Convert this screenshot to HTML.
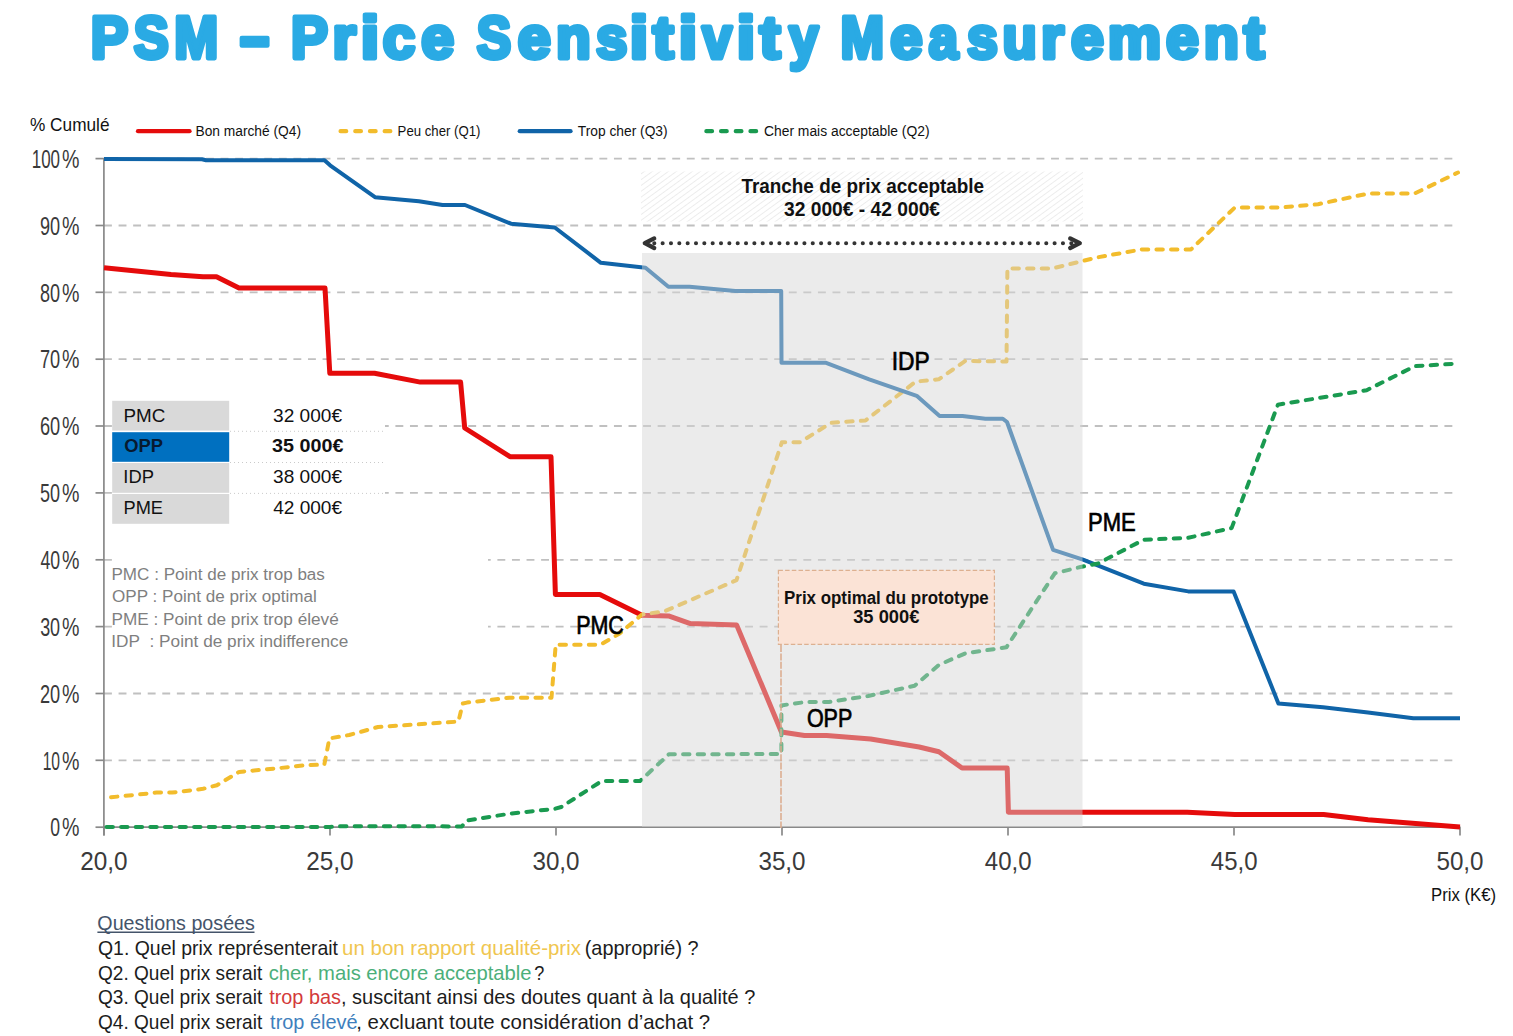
<!DOCTYPE html>
<html><head><meta charset="utf-8"><title>PSM - Price Sensitivity Measurement</title>
<style>
html,body{margin:0;padding:0;background:#fff;}
body{width:1513px;height:1036px;overflow:hidden;}
svg{display:block;font-family:"Liberation Sans",sans-serif;}
</style></head><body>
<svg width="1513" height="1036" viewBox="0 0 1513 1036">
<defs>
<pattern id="hatch" patternUnits="userSpaceOnUse" width="4.7" height="4.7" patternTransform="rotate(54)">
<line x1="0" y1="0" x2="0" y2="4.7" stroke="#d6d6d6" stroke-width="0.9"/>
</pattern>
</defs>
<rect x="0" y="0" width="1513" height="1036" fill="#fff"/>

<g fill="#2aaae4" stroke="#2aaae4">
<text x="90.81" y="58.30" font-size="59.8" font-weight="bold" fill="#2aaae4" stroke="#2aaae4" stroke-width="4.8" stroke-linejoin="round" textLength="37.42" lengthAdjust="spacingAndGlyphs">P</text>
<text x="133.73" y="58.30" font-size="59.8" font-weight="bold" fill="#2aaae4" stroke="#2aaae4" stroke-width="4.8" stroke-linejoin="round" textLength="34.94" lengthAdjust="spacingAndGlyphs">S</text>
<text x="174.24" y="58.30" font-size="59.8" font-weight="bold" fill="#2aaae4" stroke="#2aaae4" stroke-width="4.8" stroke-linejoin="round" textLength="43.91" lengthAdjust="spacingAndGlyphs">M</text>
<text x="290.96" y="58.30" font-size="59.8" font-weight="bold" fill="#2aaae4" stroke="#2aaae4" stroke-width="4.8" stroke-linejoin="round" textLength="36.95" lengthAdjust="spacingAndGlyphs">P</text>
<text x="332.48" y="58.30" font-size="59.8" font-weight="bold" fill="#2aaae4" stroke="#2aaae4" stroke-width="4.8" stroke-linejoin="round" textLength="23.48" lengthAdjust="spacingAndGlyphs">r</text>
<text x="360.87" y="58.30" font-size="59.8" font-weight="bold" fill="#2aaae4" stroke="#2aaae4" stroke-width="4.8" stroke-linejoin="round" textLength="18.39" lengthAdjust="spacingAndGlyphs">i</text>
<text x="382.86" y="58.30" font-size="59.8" font-weight="bold" fill="#2aaae4" stroke="#2aaae4" stroke-width="4.8" stroke-linejoin="round" textLength="32.51" lengthAdjust="spacingAndGlyphs">c</text>
<text x="421.24" y="58.30" font-size="59.8" font-weight="bold" fill="#2aaae4" stroke="#2aaae4" stroke-width="4.8" stroke-linejoin="round" textLength="32.85" lengthAdjust="spacingAndGlyphs">e</text>
<text x="476.85" y="58.30" font-size="59.8" font-weight="bold" fill="#2aaae4" stroke="#2aaae4" stroke-width="4.8" stroke-linejoin="round" textLength="34.38" lengthAdjust="spacingAndGlyphs">S</text>
<text x="517.72" y="58.30" font-size="59.8" font-weight="bold" fill="#2aaae4" stroke="#2aaae4" stroke-width="4.8" stroke-linejoin="round" textLength="33.08" lengthAdjust="spacingAndGlyphs">e</text>
<text x="556.10" y="58.30" font-size="59.8" font-weight="bold" fill="#2aaae4" stroke="#2aaae4" stroke-width="4.8" stroke-linejoin="round" textLength="34.76" lengthAdjust="spacingAndGlyphs">n</text>
<text x="596.02" y="58.30" font-size="59.8" font-weight="bold" fill="#2aaae4" stroke="#2aaae4" stroke-width="4.8" stroke-linejoin="round" textLength="31.40" lengthAdjust="spacingAndGlyphs">s</text>
<text x="629.87" y="58.30" font-size="59.8" font-weight="bold" fill="#2aaae4" stroke="#2aaae4" stroke-width="4.8" stroke-linejoin="round" textLength="18.39" lengthAdjust="spacingAndGlyphs">i</text>
<text x="652.72" y="58.30" font-size="59.8" font-weight="bold" fill="#2aaae4" stroke="#2aaae4" stroke-width="4.8" stroke-linejoin="round" textLength="20.79" lengthAdjust="spacingAndGlyphs">t</text>
<text x="678.87" y="58.30" font-size="59.8" font-weight="bold" fill="#2aaae4" stroke="#2aaae4" stroke-width="4.8" stroke-linejoin="round" textLength="18.39" lengthAdjust="spacingAndGlyphs">i</text>
<text x="702.33" y="58.30" font-size="59.8" font-weight="bold" fill="#2aaae4" stroke="#2aaae4" stroke-width="4.8" stroke-linejoin="round" textLength="29.66" lengthAdjust="spacingAndGlyphs">v</text>
<text x="736.77" y="58.30" font-size="59.8" font-weight="bold" fill="#2aaae4" stroke="#2aaae4" stroke-width="4.8" stroke-linejoin="round" textLength="18.39" lengthAdjust="spacingAndGlyphs">i</text>
<text x="759.62" y="58.30" font-size="59.8" font-weight="bold" fill="#2aaae4" stroke="#2aaae4" stroke-width="4.8" stroke-linejoin="round" textLength="20.90" lengthAdjust="spacingAndGlyphs">t</text>
<text x="789.00" y="58.30" font-size="59.8" font-weight="bold" fill="#2aaae4" stroke="#2aaae4" stroke-width="4.8" stroke-linejoin="round" textLength="29.42" lengthAdjust="spacingAndGlyphs">y</text>
<text x="840.57" y="58.30" font-size="59.8" font-weight="bold" fill="#2aaae4" stroke="#2aaae4" stroke-width="4.8" stroke-linejoin="round" textLength="43.55" lengthAdjust="spacingAndGlyphs">M</text>
<text x="890.18" y="58.30" font-size="59.8" font-weight="bold" fill="#2aaae4" stroke="#2aaae4" stroke-width="4.8" stroke-linejoin="round" textLength="32.28" lengthAdjust="spacingAndGlyphs">e</text>
<text x="928.82" y="58.30" font-size="59.8" font-weight="bold" fill="#2aaae4" stroke="#2aaae4" stroke-width="4.8" stroke-linejoin="round" textLength="29.24" lengthAdjust="spacingAndGlyphs">a</text>
<text x="966.96" y="58.30" font-size="59.8" font-weight="bold" fill="#2aaae4" stroke="#2aaae4" stroke-width="4.8" stroke-linejoin="round" textLength="30.82" lengthAdjust="spacingAndGlyphs">s</text>
<text x="1002.39" y="58.30" font-size="59.8" font-weight="bold" fill="#2aaae4" stroke="#2aaae4" stroke-width="4.8" stroke-linejoin="round" textLength="34.31" lengthAdjust="spacingAndGlyphs">u</text>
<text x="1040.96" y="58.30" font-size="59.8" font-weight="bold" fill="#2aaae4" stroke="#2aaae4" stroke-width="4.8" stroke-linejoin="round" textLength="22.97" lengthAdjust="spacingAndGlyphs">r</text>
<text x="1071.04" y="58.30" font-size="59.8" font-weight="bold" fill="#2aaae4" stroke="#2aaae4" stroke-width="4.8" stroke-linejoin="round" textLength="32.85" lengthAdjust="spacingAndGlyphs">e</text>
<text x="1107.70" y="58.30" font-size="59.8" font-weight="bold" fill="#2aaae4" stroke="#2aaae4" stroke-width="4.8" stroke-linejoin="round" textLength="53.41" lengthAdjust="spacingAndGlyphs">m</text>
<text x="1165.94" y="58.30" font-size="59.8" font-weight="bold" fill="#2aaae4" stroke="#2aaae4" stroke-width="4.8" stroke-linejoin="round" textLength="32.85" lengthAdjust="spacingAndGlyphs">e</text>
<text x="1203.76" y="58.30" font-size="59.8" font-weight="bold" fill="#2aaae4" stroke="#2aaae4" stroke-width="4.8" stroke-linejoin="round" textLength="35.14" lengthAdjust="spacingAndGlyphs">n</text>
<text x="1243.73" y="58.30" font-size="59.8" font-weight="bold" fill="#2aaae4" stroke="#2aaae4" stroke-width="4.8" stroke-linejoin="round" textLength="20.58" lengthAdjust="spacingAndGlyphs">t</text>
</g>
<rect x="239.6" y="35.8" width="30" height="12" rx="2.2" fill="#2aaae4"/>
<line x1="104" y1="760.3" x2="1456" y2="760.3" stroke="#c0c0c0" stroke-width="1.8" stroke-dasharray="7.9 6.67"/>
<line x1="104" y1="693.5" x2="1456" y2="693.5" stroke="#c0c0c0" stroke-width="1.8" stroke-dasharray="7.9 6.67"/>
<line x1="104" y1="626.6" x2="1456" y2="626.6" stroke="#c0c0c0" stroke-width="1.8" stroke-dasharray="7.9 6.67"/>
<line x1="104" y1="559.8" x2="1456" y2="559.8" stroke="#c0c0c0" stroke-width="1.8" stroke-dasharray="7.9 6.67"/>
<line x1="104" y1="492.9" x2="1456" y2="492.9" stroke="#c0c0c0" stroke-width="1.8" stroke-dasharray="7.9 6.67"/>
<line x1="104" y1="426.0" x2="1456" y2="426.0" stroke="#c0c0c0" stroke-width="1.8" stroke-dasharray="7.9 6.67"/>
<line x1="104" y1="359.2" x2="1456" y2="359.2" stroke="#c0c0c0" stroke-width="1.8" stroke-dasharray="7.9 6.67"/>
<line x1="104" y1="292.3" x2="1456" y2="292.3" stroke="#c0c0c0" stroke-width="1.8" stroke-dasharray="7.9 6.67"/>
<line x1="104" y1="225.5" x2="1456" y2="225.5" stroke="#c0c0c0" stroke-width="1.8" stroke-dasharray="7.9 6.67"/>
<line x1="104" y1="158.6" x2="1456" y2="158.6" stroke="#c0c0c0" stroke-width="1.8" stroke-dasharray="7.9 6.67"/>
<rect x="112" y="398" width="273" height="130" fill="#fff"/>
<rect x="112" y="540" width="376" height="112" fill="#fff"/>
<line x1="95.5" y1="827.2" x2="104" y2="827.2" stroke="#898989" stroke-width="1.7"/>
<line x1="95.5" y1="760.3" x2="104" y2="760.3" stroke="#898989" stroke-width="1.7"/>
<line x1="95.5" y1="693.5" x2="104" y2="693.5" stroke="#898989" stroke-width="1.7"/>
<line x1="95.5" y1="626.6" x2="104" y2="626.6" stroke="#898989" stroke-width="1.7"/>
<line x1="95.5" y1="559.8" x2="104" y2="559.8" stroke="#898989" stroke-width="1.7"/>
<line x1="95.5" y1="492.9" x2="104" y2="492.9" stroke="#898989" stroke-width="1.7"/>
<line x1="95.5" y1="426.0" x2="104" y2="426.0" stroke="#898989" stroke-width="1.7"/>
<line x1="95.5" y1="359.2" x2="104" y2="359.2" stroke="#898989" stroke-width="1.7"/>
<line x1="95.5" y1="292.3" x2="104" y2="292.3" stroke="#898989" stroke-width="1.7"/>
<line x1="95.5" y1="225.5" x2="104" y2="225.5" stroke="#898989" stroke-width="1.7"/>
<line x1="95.5" y1="158.6" x2="104" y2="158.6" stroke="#898989" stroke-width="1.7"/>
<line x1="103.9" y1="158.2" x2="103.9" y2="835.5" stroke="#898989" stroke-width="1.7"/>
<line x1="103" y1="827.2" x2="1460.5" y2="827.2" stroke="#898989" stroke-width="1.7"/>
<line x1="104.0" y1="827.2" x2="104.0" y2="835.5" stroke="#898989" stroke-width="1.7"/>
<line x1="330.0" y1="827.2" x2="330.0" y2="835.5" stroke="#898989" stroke-width="1.7"/>
<line x1="556.0" y1="827.2" x2="556.0" y2="835.5" stroke="#898989" stroke-width="1.7"/>
<line x1="782.0" y1="827.2" x2="782.0" y2="835.5" stroke="#898989" stroke-width="1.7"/>
<line x1="1008.0" y1="827.2" x2="1008.0" y2="835.5" stroke="#898989" stroke-width="1.7"/>
<line x1="1234.0" y1="827.2" x2="1234.0" y2="835.5" stroke="#898989" stroke-width="1.7"/>
<line x1="1460.0" y1="827.2" x2="1460.0" y2="835.5" stroke="#898989" stroke-width="1.7"/>
<polyline points="104.0,267.7 171.0,274.4 203.0,276.8 216.5,276.8 239.0,287.9 325.0,287.9 329.8,373.3 374.5,373.3 420.3,382.1 460.6,382.1 464.7,428.0 510.0,456.7 551.0,456.7 555.4,594.4 599.8,594.4 642.0,615.2 668.5,615.9 690.4,623.6 736.7,625.1 781.4,732.0 804.5,735.5 826.6,735.5 870.6,739.0 919.2,747.0 938.9,751.7 962.0,768.0 1007.2,768.0 1008.4,812.2 1187.2,812.2 1234.8,814.4 1323.6,814.4 1368.0,819.8 1460.0,827.1" fill="none" stroke="#e50b0b" stroke-width="5" stroke-linejoin="round"/>
<polyline points="104.0,798.0 156.7,792.6 172.2,792.6 203.1,788.8 216.9,785.2 239.2,771.9 280.4,768.0 306.2,765.1 324.3,764.7 329.4,738.4 349.2,735.0 378.0,727.0 458.4,721.6 462.7,703.6 466.9,702.6 509.2,697.7 551.5,697.7 555.7,644.8 600.2,644.8 619.2,633.8 642.0,614.5 664.5,611.3 736.5,580.2 781.9,442.2 800.2,442.2 831.1,422.9 841.7,422.0 865.5,420.5 915.7,381.6 938.7,379.3 965.3,361.0 1006.5,361.5 1007.4,268.6 1051.8,268.6 1096.5,257.5 1142.1,249.4 1191.0,249.4 1234.7,207.6 1278.3,207.6 1318.0,204.2 1368.2,193.6 1414.4,193.6 1458.0,172.5" fill="none" stroke="#f2bc2c" stroke-width="4.0" stroke-dasharray="6.4 8.2" stroke-dashoffset="7.5" stroke-linecap="round" stroke-linejoin="round"/>
<polyline points="104.0,159.0 202.0,159.3 206.0,160.2 324.5,160.2 330.1,165.3 375.0,197.2 418.9,201.2 442.5,205.0 465.0,205.0 511.0,223.7 554.8,227.5 600.9,262.8 645.5,267.8 668.4,286.7 689.5,286.7 735.3,291.1 781.2,291.1 781.5,362.8 826.1,362.8 869.2,379.3 916.7,395.8 939.6,415.9 962.5,415.9 985.4,418.7 1002.8,418.7 1007.0,422.0 1053.1,549.9 1083.0,559.6 1143.8,583.7 1188.2,591.4 1233.6,591.4 1278.4,703.4 1323.0,707.2 1368.0,712.5 1413.3,718.3 1460.0,718.3" fill="none" stroke="#1064a8" stroke-width="4" stroke-linejoin="round"/>
<polyline points="104.0,827.0 330.0,827.0 340.6,826.2 461.9,826.4 466.5,820.5 510.4,813.6 554.4,808.9 561.3,807.0 601.8,781.0 640.0,781.0 668.9,754.3 781.4,754.0 781.4,705.4 805.7,702.0 828.9,702.0 868.2,696.0 914.6,685.7 938.9,664.9 965.5,653.3 1006.4,647.3 1054.8,573.3 1080.5,567.0 1098.0,563.5 1143.8,539.7 1188.2,537.8 1231.6,528.1 1277.9,404.7 1366.7,390.2 1414.9,366.1 1459.3,363.5" fill="none" stroke="#1a9a50" stroke-width="4.0" stroke-dasharray="6.4 8.2" stroke-dashoffset="12.1" stroke-linecap="round" stroke-linejoin="round"/>
<rect x="642" y="253" width="440.5" height="574" fill="#d4d4d4" fill-opacity="0.47"/>
<rect x="641" y="171.5" width="442" height="50" fill="url(#hatch)"/>
<line x1="654.3" y1="243.2" x2="1071.3" y2="243.2" stroke="#333" stroke-width="4.1" stroke-linecap="round" stroke-dasharray="0 8.34"/>
<polyline points="654.2,238.4 644.8,243.2 654.2,248.0" fill="none" stroke="#333" stroke-width="4.3" stroke-linecap="round" stroke-linejoin="round"/>
<polyline points="1070.2,238.4 1079.8,243.2 1070.2,248.0" fill="none" stroke="#333" stroke-width="4.3" stroke-linecap="round" stroke-linejoin="round"/>
<line x1="781.0" y1="645" x2="781.0" y2="828" stroke="#dcab8c" stroke-width="1.5" stroke-dasharray="7 1.4"/>
<rect x="778.4" y="570.4" width="216" height="74" fill="#fbe3d6" stroke="#ddb090" stroke-width="1.2" stroke-dasharray="4.5 2.2"/>
<rect x="112.2" y="400.8" width="117" height="29.8" fill="#d9d9d9"/>
<rect x="112.2" y="432.2" width="117" height="29.6" fill="#0070c0"/>
<rect x="112.2" y="463" width="117" height="29.8" fill="#d9d9d9"/>
<rect x="112.2" y="494" width="117" height="29.8" fill="#d9d9d9"/>
<line x1="230" y1="431.3" x2="385" y2="431.3" stroke="#bdbdbd" stroke-width="0.8" stroke-dasharray="1 3"/>
<line x1="230" y1="462.5" x2="385" y2="462.5" stroke="#bdbdbd" stroke-width="0.8" stroke-dasharray="1 3"/>
<line x1="230" y1="493.4" x2="385" y2="493.4" stroke="#bdbdbd" stroke-width="0.8" stroke-dasharray="1 3"/>
<text x="30.00" y="131.20" font-size="17.9" fill="#111" textLength="79.54" lengthAdjust="spacingAndGlyphs">% Cumulé</text>
<line x1="138" y1="131.2" x2="189.5" y2="131.2" stroke="#e50b0b" stroke-width="4.3" stroke-linecap="round"/>
<line x1="340.6" y1="131.2" x2="392" y2="131.2" stroke="#f2bc2c" stroke-width="4.3" stroke-linecap="round" stroke-dasharray="5.6 9.1"/>
<line x1="519.8" y1="131.2" x2="570.5" y2="131.2" stroke="#1064a8" stroke-width="4.3" stroke-linecap="round"/>
<line x1="706.4" y1="131.2" x2="757" y2="131.2" stroke="#1a9a50" stroke-width="4.3" stroke-linecap="round" stroke-dasharray="5.6 9.1"/>
<text x="195.46" y="135.70" font-size="15.4" fill="#111" textLength="105.56" lengthAdjust="spacingAndGlyphs">Bon marché (Q4)</text>
<text x="397.61" y="135.70" font-size="15.4" fill="#111" textLength="82.89" lengthAdjust="spacingAndGlyphs">Peu cher (Q1)</text>
<text x="577.79" y="135.70" font-size="15.4" fill="#111" textLength="89.84" lengthAdjust="spacingAndGlyphs">Trop cher (Q3)</text>
<text x="764.01" y="135.70" font-size="15.4" fill="#111" textLength="165.52" lengthAdjust="spacingAndGlyphs">Cher mais acceptable (Q2)</text>
<text x="31.73" y="167.80" font-size="25.2" fill="#3a3a3a" textLength="28.33" lengthAdjust="spacingAndGlyphs">100</text>
<text x="62.11" y="167.80" font-size="25.2" fill="#3a3a3a" textLength="17.46" lengthAdjust="spacingAndGlyphs">%</text>
<text x="39.94" y="234.66" font-size="25.2" fill="#3a3a3a" textLength="20.18" lengthAdjust="spacingAndGlyphs">90</text>
<text x="62.11" y="234.66" font-size="25.2" fill="#3a3a3a" textLength="17.46" lengthAdjust="spacingAndGlyphs">%</text>
<text x="40.03" y="301.52" font-size="25.2" fill="#3a3a3a" textLength="20.09" lengthAdjust="spacingAndGlyphs">80</text>
<text x="62.11" y="301.52" font-size="25.2" fill="#3a3a3a" textLength="17.46" lengthAdjust="spacingAndGlyphs">%</text>
<text x="39.89" y="368.38" font-size="25.2" fill="#3a3a3a" textLength="20.23" lengthAdjust="spacingAndGlyphs">70</text>
<text x="62.11" y="368.38" font-size="25.2" fill="#3a3a3a" textLength="17.46" lengthAdjust="spacingAndGlyphs">%</text>
<text x="39.89" y="435.24" font-size="25.2" fill="#3a3a3a" textLength="20.23" lengthAdjust="spacingAndGlyphs">60</text>
<text x="62.11" y="435.24" font-size="25.2" fill="#3a3a3a" textLength="17.46" lengthAdjust="spacingAndGlyphs">%</text>
<text x="40.08" y="502.10" font-size="25.2" fill="#3a3a3a" textLength="20.04" lengthAdjust="spacingAndGlyphs">50</text>
<text x="62.11" y="502.10" font-size="25.2" fill="#3a3a3a" textLength="17.46" lengthAdjust="spacingAndGlyphs">%</text>
<text x="40.40" y="568.96" font-size="25.2" fill="#3a3a3a" textLength="19.70" lengthAdjust="spacingAndGlyphs">40</text>
<text x="62.11" y="568.96" font-size="25.2" fill="#3a3a3a" textLength="17.46" lengthAdjust="spacingAndGlyphs">%</text>
<text x="40.13" y="635.82" font-size="25.2" fill="#3a3a3a" textLength="19.99" lengthAdjust="spacingAndGlyphs">30</text>
<text x="62.11" y="635.82" font-size="25.2" fill="#3a3a3a" textLength="17.46" lengthAdjust="spacingAndGlyphs">%</text>
<text x="39.89" y="702.68" font-size="25.2" fill="#3a3a3a" textLength="20.23" lengthAdjust="spacingAndGlyphs">20</text>
<text x="62.11" y="702.68" font-size="25.2" fill="#3a3a3a" textLength="17.46" lengthAdjust="spacingAndGlyphs">%</text>
<text x="42.63" y="769.54" font-size="25.2" fill="#3a3a3a" textLength="17.40" lengthAdjust="spacingAndGlyphs">10</text>
<text x="62.11" y="769.54" font-size="25.2" fill="#3a3a3a" textLength="17.46" lengthAdjust="spacingAndGlyphs">%</text>
<text x="50.30" y="836.40" font-size="25.2" fill="#3a3a3a" textLength="9.78" lengthAdjust="spacingAndGlyphs">0</text>
<text x="62.11" y="836.40" font-size="25.2" fill="#3a3a3a" textLength="17.46" lengthAdjust="spacingAndGlyphs">%</text>
<text x="80.18" y="869.80" font-size="25.2" fill="#3a3a3a" textLength="47.36" lengthAdjust="spacingAndGlyphs">20,0</text>
<text x="306.18" y="869.80" font-size="25.2" fill="#3a3a3a" textLength="47.36" lengthAdjust="spacingAndGlyphs">25,0</text>
<text x="532.49" y="869.80" font-size="25.2" fill="#3a3a3a" textLength="47.05" lengthAdjust="spacingAndGlyphs">30,0</text>
<text x="758.49" y="869.80" font-size="25.2" fill="#3a3a3a" textLength="47.05" lengthAdjust="spacingAndGlyphs">35,0</text>
<text x="984.86" y="869.80" font-size="25.2" fill="#3a3a3a" textLength="46.67" lengthAdjust="spacingAndGlyphs">40,0</text>
<text x="1210.86" y="869.80" font-size="25.2" fill="#3a3a3a" textLength="46.67" lengthAdjust="spacingAndGlyphs">45,0</text>
<text x="1436.43" y="869.80" font-size="25.2" fill="#3a3a3a" textLength="47.11" lengthAdjust="spacingAndGlyphs">50,0</text>
<text x="1431.02" y="901.40" font-size="18.4" fill="#111" textLength="65.01" lengthAdjust="spacingAndGlyphs">Prix (K€)</text>
<text x="123.45" y="421.50" font-size="17.8" fill="#111" textLength="41.85" lengthAdjust="spacingAndGlyphs">PMC</text>
<text x="124.27" y="452.40" font-size="17.8" font-weight="bold" fill="#071a30" textLength="38.76" lengthAdjust="spacingAndGlyphs">OPP</text>
<text x="123.30" y="483.20" font-size="17.8" fill="#111" textLength="30.66" lengthAdjust="spacingAndGlyphs">IDP</text>
<text x="123.50" y="513.90" font-size="17.8" fill="#111" textLength="39.47" lengthAdjust="spacingAndGlyphs">PME</text>
<text x="273.08" y="421.50" font-size="17.8" fill="#111" textLength="69.00" lengthAdjust="spacingAndGlyphs">32 000€</text>
<text x="272.06" y="452.40" font-size="17.8" font-weight="bold" fill="#111" textLength="71.44" lengthAdjust="spacingAndGlyphs">35 000€</text>
<text x="273.08" y="483.20" font-size="17.8" fill="#111" textLength="69.00" lengthAdjust="spacingAndGlyphs">38 000€</text>
<text x="273.17" y="513.90" font-size="17.8" fill="#111" textLength="68.91" lengthAdjust="spacingAndGlyphs">42 000€</text>
<text x="111.49" y="579.90" font-size="15.6" fill="#7f7f7f" textLength="213.42" lengthAdjust="spacingAndGlyphs">PMC : Point de prix trop bas</text>
<text x="112.09" y="602.30" font-size="15.6" fill="#7f7f7f" textLength="204.77" lengthAdjust="spacingAndGlyphs">OPP : Point de prix optimal</text>
<text x="111.48" y="624.60" font-size="15.6" fill="#7f7f7f" textLength="227.27" lengthAdjust="spacingAndGlyphs">PME : Point de prix trop élevé</text>
<text x="111.31" y="646.90" font-size="15.6" fill="#7f7f7f" textLength="236.96" lengthAdjust="spacingAndGlyphs">IDP  : Point de prix indifference</text>
<text x="576.13" y="634.30" font-size="25.4" fill="#000" textLength="47.77" lengthAdjust="spacingAndGlyphs" stroke="#000" stroke-width="0.7">PMC</text>
<text x="806.88" y="726.70" font-size="25.4" fill="#000" textLength="45.44" lengthAdjust="spacingAndGlyphs" stroke="#000" stroke-width="0.7">OPP</text>
<text x="891.79" y="370.10" font-size="25.4" fill="#000" textLength="37.99" lengthAdjust="spacingAndGlyphs" stroke="#000" stroke-width="0.7">IDP</text>
<text x="1088.08" y="531.40" font-size="25.4" fill="#000" textLength="47.74" lengthAdjust="spacingAndGlyphs" stroke="#000" stroke-width="0.7">PME</text>
<text x="741.41" y="192.70" font-size="20.8" font-weight="bold" fill="#111" textLength="242.64" lengthAdjust="spacingAndGlyphs">Tranche de prix acceptable</text>
<text x="783.97" y="216.40" font-size="20.8" font-weight="bold" fill="#111" textLength="156.09" lengthAdjust="spacingAndGlyphs">32 000€ - 42 000€</text>
<text x="784.06" y="603.80" font-size="18.3" font-weight="bold" fill="#111" textLength="204.73" lengthAdjust="spacingAndGlyphs">Prix optimal du prototype</text>
<text x="853.19" y="622.60" font-size="18.3" font-weight="bold" fill="#111" textLength="66.18" lengthAdjust="spacingAndGlyphs">35 000€</text>
<text x="97.37" y="930.00" font-size="20.6" fill="#44546a" textLength="157.53" lengthAdjust="spacingAndGlyphs">Questions posées</text>
<line x1="97.4" y1="932.2" x2="254.5" y2="932.2" stroke="#44546a" stroke-width="1.6"/>
<text x="97.98" y="955.00" font-size="20.4" fill="#1c1c1c" textLength="240.06" lengthAdjust="spacingAndGlyphs">Q1. Quel prix représenterait</text>
<text x="342.07" y="955.00" font-size="20.4" fill="#f0c650" textLength="238.87" lengthAdjust="spacingAndGlyphs">un bon rapport qualité-prix</text>
<text x="584.76" y="955.00" font-size="20.4" fill="#1c1c1c" textLength="113.84" lengthAdjust="spacingAndGlyphs">(approprié) ?</text>
<text x="97.99" y="979.50" font-size="20.4" fill="#1c1c1c" textLength="164.24" lengthAdjust="spacingAndGlyphs">Q2. Quel prix serait</text>
<text x="268.64" y="979.50" font-size="20.4" fill="#4caf7a" textLength="262.92" lengthAdjust="spacingAndGlyphs">cher, mais encore acceptable</text>
<text x="534.27" y="979.50" font-size="20.4" fill="#1c1c1c" textLength="10.08" lengthAdjust="spacingAndGlyphs">?</text>
<text x="97.99" y="1004.00" font-size="20.4" fill="#1c1c1c" textLength="164.24" lengthAdjust="spacingAndGlyphs">Q3. Quel prix serait</text>
<text x="269.20" y="1004.00" font-size="20.4" fill="#d33a3a" textLength="71.71" lengthAdjust="spacingAndGlyphs">trop bas</text>
<text x="341.00" y="1004.00" font-size="20.4" fill="#1c1c1c" textLength="414.33" lengthAdjust="spacingAndGlyphs">, suscitant ainsi des doutes quant à la qualité ?</text>
<text x="97.99" y="1028.50" font-size="20.4" fill="#1c1c1c" textLength="164.24" lengthAdjust="spacingAndGlyphs">Q4. Quel prix serait</text>
<text x="270.10" y="1028.50" font-size="20.4" fill="#3f7fbd" textLength="87.48" lengthAdjust="spacingAndGlyphs">trop élevé</text>
<text x="356.26" y="1028.50" font-size="20.4" fill="#1c1c1c" textLength="353.96" lengthAdjust="spacingAndGlyphs">, excluant toute considération d’achat ?</text>
</svg>
</body></html>
